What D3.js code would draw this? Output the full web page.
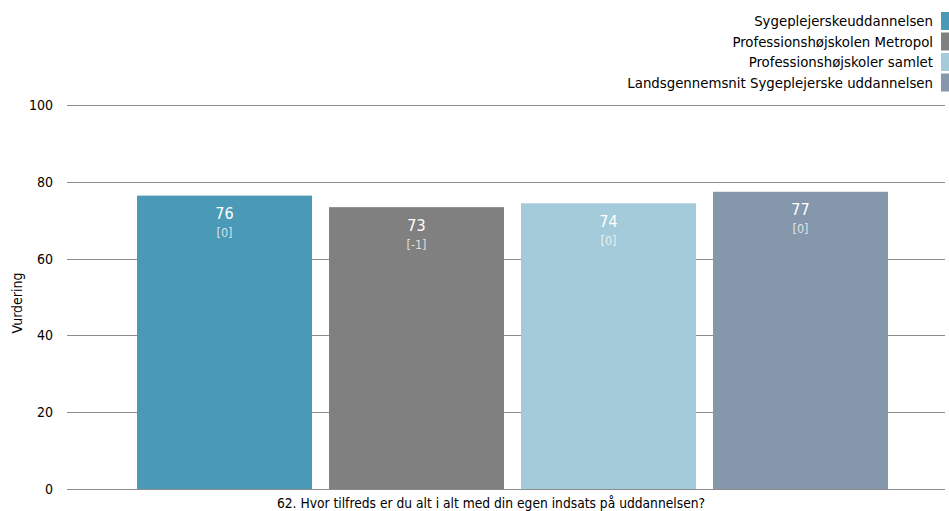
<!DOCTYPE html>
<html>
<head>
<meta charset="utf-8">
<script src="https://cdn.jsdelivr.net/npm/d3@7"></script>
<style>
  html, body { margin: 0; padding: 0; background: #fff; }
  svg text { font-family: "DejaVu Sans Condensed", "DejaVu Sans", sans-serif; }
</style>
</head>
<body>
<svg id="chart" width="949" height="511"></svg>
<script>
// Series shown as bars, one per group
const series = [
  "Sygeplejerskeuddannelsen",
  "Professionshøjskolen Metropol",
  "Professionshøjskoler samlet",
  "Landsgennemsnit Sygeplejerske uddannelsen"
];
const values = [76.4, 73.4, 74.4, 77.4];
const changes = ["[0]", "[-1]", "[0]", "[0]"];
const colors = ["#4999b7", "#808080", "#a3cbd9", "#8497ab"];
const yTicks = [0, 20, 40, 60, 80, 100];
const question = "62. Hvor tilfreds er du alt i alt med din egen indsats på uddannelsen?";
const yTitle = "Vurdering";

const svg = d3.select("#chart");
const plot = { left: 67, right: 945, top: 105, bottom: 489 };

const y = d3.scaleLinear().domain([0, 100]).range([plot.bottom, plot.top]);
const x = d3.scaleBand().domain(series).range([128, 897]).paddingInner(17 / 192).paddingOuter(0.047);

// Horizontal grid lines
svg.append("g").selectAll("line").data(yTicks).join("line")
  .attr("x1", plot.left).attr("x2", plot.right)
  .attr("y1", d => Math.round(y(d)) + 0.5).attr("y2", d => Math.round(y(d)) + 0.5)
  .attr("stroke", "#8c8c8c").attr("stroke-width", 1);

// Y axis tick labels
svg.append("g").selectAll("text").data(yTicks).join("text")
  .attr("x", 53).attr("y", d => y(d))
  .attr("dy", "0.35em").attr("text-anchor", "end")
  .attr("font-size", 14).attr("fill", "#000")
  .text(d => d);

// Y axis title
svg.append("text")
  .attr("transform", `translate(22, ${(plot.top + plot.bottom) / 2 + 6}) rotate(-90)`)
  .attr("text-anchor", "middle").attr("font-size", 14).attr("fill", "#000")
  .text(yTitle);

// Bars
svg.append("g").selectAll("rect").data(values).join("rect")
  .attr("x", (d, i) => x(series[i]))
  .attr("width", x.bandwidth())
  .attr("y", d => y(d))
  .attr("height", d => y(0) - y(d))
  .attr("fill", (d, i) => colors[i]);

// Value labels inside bars
svg.append("g").selectAll("text").data(values).join("text")
  .attr("x", (d, i) => x(series[i]) + x.bandwidth() / 2)
  .attr("y", d => y(d) + 18)
  .attr("dy", "0.35em").attr("text-anchor", "middle")
  .attr("font-size", 16).attr("fill", "#fff")
  .text(d => d3.format(".0f")(d));

svg.append("g").selectAll("text").data(values).join("text")
  .attr("x", (d, i) => x(series[i]) + x.bandwidth() / 2)
  .attr("y", d => y(d) + 37)
  .attr("dy", "0.35em").attr("text-anchor", "middle")
  .attr("font-size", 12.5).attr("fill", "#fff").attr("fill-opacity", 0.75)
  .text((d, i) => changes[i]);

// Category label under the axis
svg.append("text")
  .attr("x", 491).attr("y", 503)
  .attr("dy", "0.35em").attr("text-anchor", "middle")
  .attr("font-size", 13.7).attr("fill", "#000")
  .text(question);

// Legend, right aligned
const legend = svg.append("g").selectAll("g").data(series).join("g")
  .attr("transform", (d, i) => `translate(0, ${21 + i * 20.5})`);
legend.append("rect")
  .attr("x", 941).attr("y", -9).attr("width", 8).attr("height", 18)
  .attr("fill", (d, i) => colors[i]);
legend.append("text")
  .attr("x", 933).attr("y", 0).attr("dy", "0.35em")
  .attr("text-anchor", "end").attr("font-size", 14.8).attr("fill", "#000")
  .text(d => d);
</script>
</body>
</html>
